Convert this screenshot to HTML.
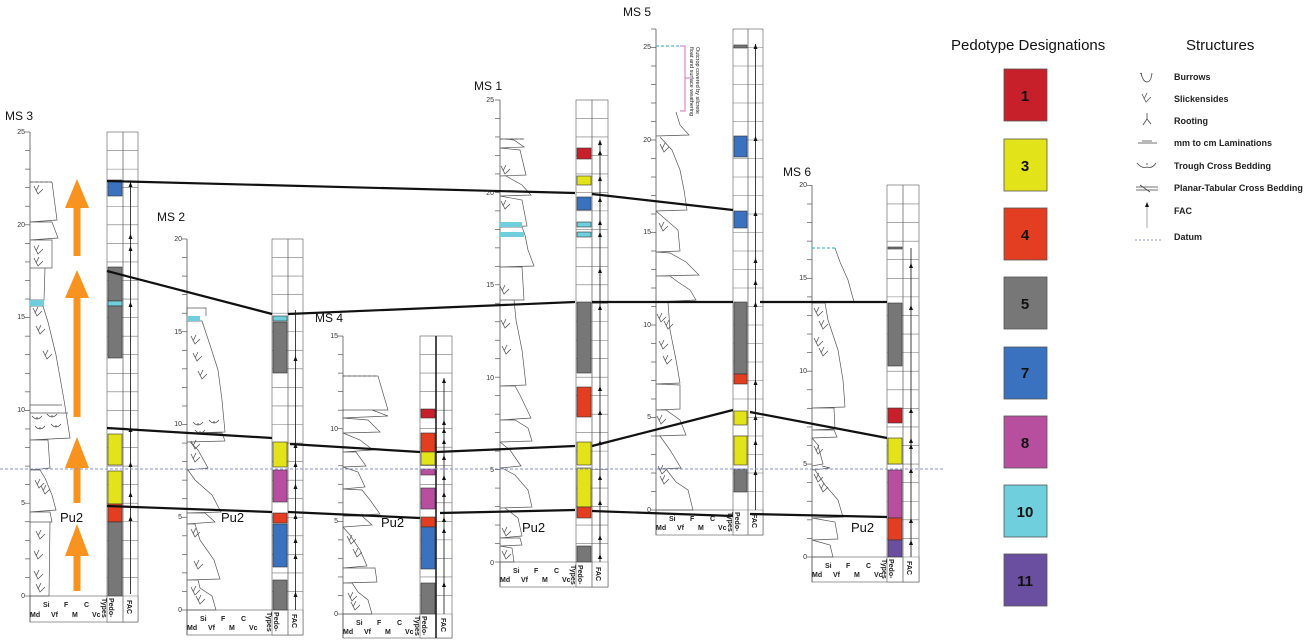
<!DOCTYPE html><html><head><meta charset="utf-8"><style>
body{margin:0;background:#fff}
svg{display:block;font-family:"Liberation Sans",Arial,sans-serif}
.n{font-size:7px;text-anchor:end;fill:#333}
.b{font-size:7px;font-weight:bold;fill:#222}
.t{font-size:12px;fill:#111}
.pu{font-size:13px;fill:#111}
.lg{font-size:9px;font-weight:bold;fill:#222}
.ln{font-size:15px;font-weight:bold;text-anchor:middle;fill:#111}
</style></head><body>
<svg id="s" width="1309" height="642" viewBox="0 0 1309 642" xmlns="http://www.w3.org/2000/svg">
<g id="g"></g>
<text class="t" x="5" y="120">MS 3</text>
<text class="t" x="157" y="221">MS 2</text>
<text class="t" x="315" y="322">MS 4</text>
<text class="t" x="474" y="90">MS 1</text>
<text class="t" x="623" y="16">MS 5</text>
<text class="t" x="783" y="176">MS 6</text>
<g class="n">
<text x="25" y="598">0</text><text x="25" y="505">5</text><text x="25" y="412">10</text><text x="25" y="319">15</text><text x="25" y="227">20</text><text x="25" y="134">25</text>
<text x="182" y="612">0</text><text x="182" y="519">5</text><text x="182" y="426">10</text><text x="182" y="334">15</text><text x="182" y="241">20</text>
<text x="338" y="616">0</text><text x="338" y="523">5</text><text x="338" y="431">10</text><text x="338" y="338">15</text>
<text x="494" y="565">0</text><text x="494" y="472">5</text><text x="494" y="380">10</text><text x="494" y="287">15</text><text x="494" y="195">20</text><text x="494" y="102">25</text>
<text x="651" y="512">0</text><text x="651" y="419">5</text><text x="651" y="327">10</text><text x="651" y="234">15</text><text x="651" y="142">20</text><text x="651" y="49">25</text>
<text x="807" y="559">0</text><text x="807" y="466">5</text><text x="807" y="373">10</text><text x="807" y="280">15</text><text x="807" y="187">20</text>
</g>
<g class="b">
<text x="43" y="607">Si</text><text x="64" y="607">F</text><text x="84" y="607">C</text><text x="30" y="617">Md</text><text x="51" y="617">Vf</text><text x="72" y="617">M</text><text x="92" y="617">Vc</text>
<text x="200" y="621">Si</text><text x="221" y="621">F</text><text x="241" y="621">C</text><text x="187" y="630">Md</text><text x="208" y="630">Vf</text><text x="229" y="630">M</text><text x="249" y="630">Vc</text>
<text x="356" y="625">Si</text><text x="377" y="625">F</text><text x="397" y="625">C</text><text x="343" y="634">Md</text><text x="364" y="634">Vf</text><text x="385" y="634">M</text><text x="405" y="634">Vc</text>
<text x="513" y="573">Si</text><text x="534" y="573">F</text><text x="554" y="573">C</text><text x="500" y="582">Md</text><text x="521" y="582">Vf</text><text x="542" y="582">M</text><text x="562" y="582">Vc</text>
<text x="669" y="521">Si</text><text x="690" y="521">F</text><text x="710" y="521">C</text><text x="656" y="530">Md</text><text x="677" y="530">Vf</text><text x="698" y="530">M</text><text x="718" y="530">Vc</text>
<text x="825" y="568">Si</text><text x="846" y="568">F</text><text x="866" y="568">C</text><text x="812" y="577">Md</text><text x="833" y="577">Vf</text><text x="854" y="577">M</text><text x="874" y="577">Vc</text>
</g>
<g class="b">
<text transform="translate(109,598) rotate(90)">Pedo-<tspan x="0" dy="7">Types</tspan></text><text transform="translate(127,600) rotate(90)">FAC</text>
<text transform="translate(274,612) rotate(90)">Pedo-<tspan x="0" dy="7">Types</tspan></text><text transform="translate(292,614) rotate(90)">FAC</text>
<text transform="translate(422,616) rotate(90)">Pedo-<tspan x="0" dy="7">Types</tspan></text><text transform="translate(441,618) rotate(90)">FAC</text>
<text transform="translate(578,565) rotate(90)">Pedo-<tspan x="0" dy="7">Types</tspan></text><text transform="translate(596,567) rotate(90)">FAC</text>
<text transform="translate(735,512) rotate(90)">Pedo-<tspan x="0" dy="7">Types</tspan></text><text transform="translate(752,514) rotate(90)">FAC</text>
<text transform="translate(889,559) rotate(90)">Pedo-<tspan x="0" dy="7">Types</tspan></text><text transform="translate(907,561) rotate(90)">FAC</text>
</g>
<g class="pu">
<text x="60" y="522">Pu2</text><text x="221" y="522">Pu2</text><text x="381" y="527">Pu2</text><text x="522" y="532">Pu2</text><text x="851" y="532">Pu2</text>
</g>
<text class="b" style="font-weight:normal;font-size:5.5px" transform="translate(696,47) rotate(90)">Outcrop covered by silcrete<tspan x="0" dy="6">float and surface weathering</tspan></text>
<text x="951" y="50" style="font-size:15px;fill:#111">Pedotype Designations</text>
<text x="1186" y="50" style="font-size:15px;fill:#111">Structures</text>
<g id="leg"></g>
<g class="ln">
<text x="1025" y="101">1</text><text x="1025" y="171">3</text><text x="1025" y="240">4</text><text x="1025" y="309">5</text><text x="1025" y="378">7</text><text x="1025" y="448">8</text><text x="1025" y="517">10</text><text x="1025" y="586">11</text>
</g>
<g class="lg">
<text x="1174" y="80">Burrows</text><text x="1174" y="102">Slickensides</text><text x="1174" y="124">Rooting</text><text x="1174" y="146">mm to cm Laminations</text><text x="1174" y="169">Trough Cross Bedding</text><text x="1174" y="191">Planar-Tabular Cross Bedding</text><text x="1174" y="214">FAC</text><text x="1174" y="240">Datum</text>
</g>
</svg>
<script>
var g=document.getElementById('g'),NS='http://www.w3.org/2000/svg';
function el(t,a,p){var e=document.createElementNS(NS,t);for(var k in a)e.setAttribute(k,a[k]);(p||g).appendChild(e);return e;}
function L(x1,y1,x2,y2,c,w,d){var a={x1:x1,y1:y1,x2:x2,y2:y2,stroke:c||'#555','stroke-width':w||0.7};if(d)a['stroke-dasharray']=d;return el('line',a);}
function R(x,y,w,h,f,s){return el('rect',{x:x,y:y,width:w,height:h,fill:f,stroke:s||'none','stroke-width':0.6});}
function P(d,s,w,f){return el('path',{d:d,fill:f||'none',stroke:s||'#555','stroke-width':w||0.7});}
function head(x,y){el('polygon',{points:(x-2)+','+(y+5)+' '+(x+2)+','+(y+5)+' '+x+','+y,fill:'#111'});}
var C={r1:'#c8202a',y:'#e3e319',r4:'#e33d22',gr:'#777',bl:'#3a72bf',mg:'#b84f9e',cy:'#6fcfdc',pu:'#6a4fa0'};
function sec(o){
 var ax=o.ax,y0=o.y0,s=o.s;
 o.lith.forEach(function(d){P(d,'#555',0.7);});
 L(ax,o.top,ax,o.bot,'#555',0.8);
 for(var i=0;;i++){var y=y0-i*s;if(y<o.top-1)break;L(ax-5,y,ax,y,'#555',0.7);}
 R(ax,y0,o.cr-ax,o.bot-y0,'none','#555');
 R(o.cl,o.top,o.cr-o.cl,o.bot-o.top,'#fff','#555');
 for(var i=0;;i++){var y=y0-i*s;if(y<o.top+1)break;L(o.cl,y,o.cr,y,'#777',0.6);}
 o.bl.forEach(function(b){R(o.cl+1,b[0],o.dv-o.cl-2,b[1]-b[0],C[b[2]],'#333');});
 L(o.dv,o.top,o.dv,o.bot,o.thick?'#111':'#555',o.thick?1.5:0.7);
 var fx=(o.dv+o.cr)/2;
 L(fx,y0+(o.facB||0),fx,o.facT,'#111',0.8);
 o.ar.forEach(function(y){head(fx,y);});
}
sec({ax:30,y0:596,s:18.56,top:132,bot:622,cl:107,cr:138,dv:123,facT:182,facB:-2,
 bl:[[180,196,'bl'],[267,301,'gr'],[301,306,'cy'],[306,358,'gr'],[434,465,'y'],[471,504,'y'],[504,522,'r4'],[522,596,'gr']],
 ar:[182,234,246,302,427,462,492,516],
 lith:['M30,596 L49,596 L50,522 L30,522 M30,522 L52,522 L50,512 L30,512 M30,512 L56,510 L52,495 L45,478 L40,470 L30,470 M30,470 L50,468 L48,440 L30,440 M30,440 L70,438 L64,400 L56,355 L48,322 L43,306 L30,306 M30,300 L44,300 L45,268 L30,268 M30,268 L52,268 L52,240 L30,240 M30,240 L58,238 L52,222 L30,222 M30,222 L57,220 L52,182',
 'M30,182 L52,182','M30,413 L68,413 M30,405 L62,405']});
sec({ax:187,y0:610,s:18.55,top:239,bot:635,cl:272,cr:303,dv:288,facT:310,
 bl:[[316,321,'cy'],[322,373,'gr'],[442,467,'y'],[470,502,'mg'],[513,523,'r4'],[524,567,'bl'],[580,610,'gr']],
 ar:[356,443,462,484,514,538,554,592],
 lith:['M187,610 L216,610 L212,596 L200,588 L198,580 L187,580 M187,580 L220,579 L214,560 L200,540 L195,524 L187,524 M187,524 L215,522 L205,513 L187,513 M187,513 L221,512 L212,495 L195,480 L188,470 M187,470 L208,468 L198,450 L190,442 M187,442 L225,441 L222,433 L187,433 M187,433 L225,432 L222,400 L218,370 L210,345 L202,321 L187,321',
 'M187,308 L206,308 L206,316 M187,308 L187,316']});
sec({ax:343,y0:614,s:18.53,top:336,bot:638,cl:420,cr:452,dv:436,thick:1,facT:378,
 bl:[[409,418,'r1'],[433,452,'r4'],[452,465,'y'],[469,475,'mg'],[488,509,'mg'],[517,527,'r4'],[527,569,'bl'],[583,614,'gr']],
 ar:[378,420,428,439,455,475,492,517,528,582],
 lith:['M343,614 L372,614 L368,600 L358,592 L352,583 L343,583 M343,583 L377,582 L375,568 L343,568 M343,568 L367,566 L360,550 L350,535 L343,527 M343,527 L372,525 L362,516 L343,516 M343,516 L380,514 L370,500 L362,490 L343,489 M343,489 L365,487 L358,472 L343,467 M343,467 L366,466 L356,452 L343,452 M343,452 L373,450 L360,440 L343,433 M343,433 L380,432 L368,420 L343,418 M343,418 L388,416 L372,410 L343,410 M343,410 L388,410 L378,376',
 'M343,376 L378,376']});
sec({ax:500,y0:562,s:18.48,top:100,bot:587,cl:576,cr:608,dv:592,facT:140,
 bl:[[148,159,'r1'],[176,185,'y'],[197,210,'bl'],[222,227,'cy'],[232,237,'cy'],[302,373,'gr'],[387,417,'r4'],[442,465,'y'],[468,507,'y'],[507,518,'r4'],[546,562,'gr']],
 ar:[140,150,176,197,220,232,268,305,386,410,440,475,500,535,554],
 lith:['M500,562 L514,562 L512,548 L500,546 M500,546 L522,545 L520,538 L500,538 M500,538 L522,536 L518,518 L505,508 M500,508 L532,507 L528,490 L515,475 L502,468 M500,468 L521,466 L510,450 L500,442 M500,442 L532,441 L528,428 L515,420 L500,420 M500,420 L531,418 L520,395 L515,386 L500,386 M500,386 L526,385 L522,350 L516,320 L514,300 L500,300 M500,300 L524,300 L522,267 L500,267 M500,267 L534,266 L528,250 L525,235 L522,227 L500,227 M500,227 L527,226 L522,200 L500,196 M500,196 L531,195 L522,185 L506,176 M500,176 L526,175 L520,150 L500,148 M500,148 L524,147 L514,140 L505,139','M500,139 L524,139']});
R(500,222,22,5,C.cy);R(500,232,24,5,C.cy);
sec({ax:656,y0:510,s:18.5,top:29,bot:535,cl:733,cr:763,dv:748,facT:44,
 bl:[[45,48,'gr'],[136,157,'bl'],[211,228,'bl'],[302,374,'gr'],[374,384,'r4'],[411,425,'y'],[436,465,'y'],[469,492,'gr']],
 ar:[44,136,211,258,280,302,380,415,440,470],
 lith:['M656,510 L693,510 L688,490 L676,482 L666,469 L656,469 M656,469 L681,468 L670,450 L660,436 M656,436 L686,435 L680,420 L666,410 L656,410 M656,410 L680,409 L680,385 L656,384 M656,384 L680,383 L676,360 L670,330 L668,302 M656,302 L696,300 L690,290 L678,282 L670,276 L656,276 M656,276 L699,275 L686,262 L670,253 L656,252 M656,252 L680,251 L678,230 L656,211 M656,211 L687,210 L684,190 L680,170 L672,150 L660,137 M656,136 L689,135 L680,125 L676,112'
 ]});
sec({ax:812,y0:557,s:18.58,top:185,bot:582,cl:887,cr:919,dv:903,facT:248,
 bl:[[247,249,'gr'],[303,366,'gr'],[408,423,'r1'],[438,464,'y'],[470,518,'mg'],[518,540,'r4'],[540,557,'pu']],
 ar:[263,305,408,438,444,468,518,540],
 lith:['M812,557 L833,557 L830,545 L812,540 M812,540 L838,539 L835,522 L812,518 M812,518 L843,517 L838,500 L825,485 L815,470 M812,470 L830,468 L822,466 M812,466 L823,464 L818,445 L812,438 M812,438 L837,437 L834,430 L812,430 M812,430 L835,429 L834,408 L812,408 M812,408 L845,407 L843,380 L838,350 L828,320 L825,303 L812,303 M812,303 L854,302 L848,280 L840,262 L835,248']});
L(656,46,680,46,'#2aa9b8',1,'3,2');L(812,248,835,248,'#2aa9b8',1,'3,2');
L(30,182,52,182,'#555',0.7,'3,2');L(500,139,524,139,'#555',0.7,'3,2');L(343,376,378,376,'#555',0.7,'3,2');
R(187,316,13,5,C.cy);R(30,300,14,6,C.cy);
P('M680,46 L685,46 L685,111 L680,111 M685,78 L690,78','#d070c0',1);
function sk(x,y){P('M'+(x-4)+','+(y-4)+' L'+x+','+(y+4)+' L'+(x+5)+','+(y-1)+' M'+(x+1)+','+(y-5)+' L'+(x-2)+','+(y+1),'#555',0.8);}
[[38,190],[38,250],[38,262],[37,312],[40,330],[47,355],[39,484],[45,490],[40,535],[38,555],[38,575],[40,588],
[195,340],[197,357],[202,375],[195,445],[195,458],[195,533],[198,565],[195,591],[200,600],
[351,540],[357,553],[352,597],[355,606],[506,532],[506,555],[505,205],[505,170],[504,290],[505,324],[506,350],
[664,148],[663,227],[661,318],[668,325],[663,345],[667,360],[662,470],[664,480],[661,420],
[818,312],[823,325],[818,342],[823,352],[818,450],[818,478],[823,488]].forEach(function(p){sk(p[0],p[1]);});
function tr(x,y){P('M'+(x-5)+','+(y-2)+' Q'+x+','+(y+4)+' '+(x+5)+','+(y-2),'#444',0.7);el('circle',{cx:x,cy:y,r:0.7,fill:'#444'});}
[[37,418],[52,416],[40,428],[56,426],[198,424],[214,422],[200,432]].forEach(function(p){tr(p[0],p[1]);});
function oa(x,yb,yt,yh){el('rect',{x:x-3.5,y:yh-1,width:7,height:yb-yh+1,fill:'#f7931e'});el('polygon',{points:(x-12)+','+yh+' '+(x+12)+','+yh+' '+x+','+yt,fill:'#f7931e'});}
oa(77,591,524,556);oa(77,503,437,468);oa(77,417,270,298);oa(77,256,179,208);
L(0,469,945,469,'#8890d0',1,'3,2');
var K='#111';
[[107,181,575,193],[592,194,733,210],[107,271,272,314],[288,314,575,302],[592,302,733,302],[760,302,887,302],
[107,428,272,438],[290,444,420,452],[436,452,575,446],[592,446,733,410],[750,412,887,438],
[107,506,272,512],[288,512,420,518],[440,513,575,510],[592,511,733,516],[750,514,887,517]].forEach(function(l){L(l[0],l[1],l[2],l[3],K,2.2);});
var lg=document.getElementById('leg');
[['r1',69],['y',139],['r4',208],['gr',277],['bl',347],['mg',416],['cy',485],['pu',554]].forEach(function(b){el('rect',{x:1004,y:b[1],width:43,height:52,fill:C[b[0]],stroke:'#555','stroke-width':0.8},lg);});
P('M1141,73 Q1143,82 1147,82 Q1151,82 1152,73','#444',0.8);P('M1140,73 L1142,74','#444',0.8);
sk(1146,98);
P('M1147,113 L1147,119 L1143,125 M1147,119 L1151,124','#444',0.8);
P('M1138,143 L1157,143 M1142,141 L1152,141','#444',0.8);
P('M1137,163 Q1142,169 1147,167 Q1152,169 1156,163','#444',0.8);el('circle',{cx:1147,cy:164,r:0.7,fill:'#444'});
P('M1136,187 L1158,187 M1136,190 L1158,190 M1140,185 L1150,192','#444',0.8);
L(1147,207,1147,228,'#aaa',1);head(1147,202);
L(1135,240,1162,240,'#8890d0',1,'2,2');
</script>
</body></html>
